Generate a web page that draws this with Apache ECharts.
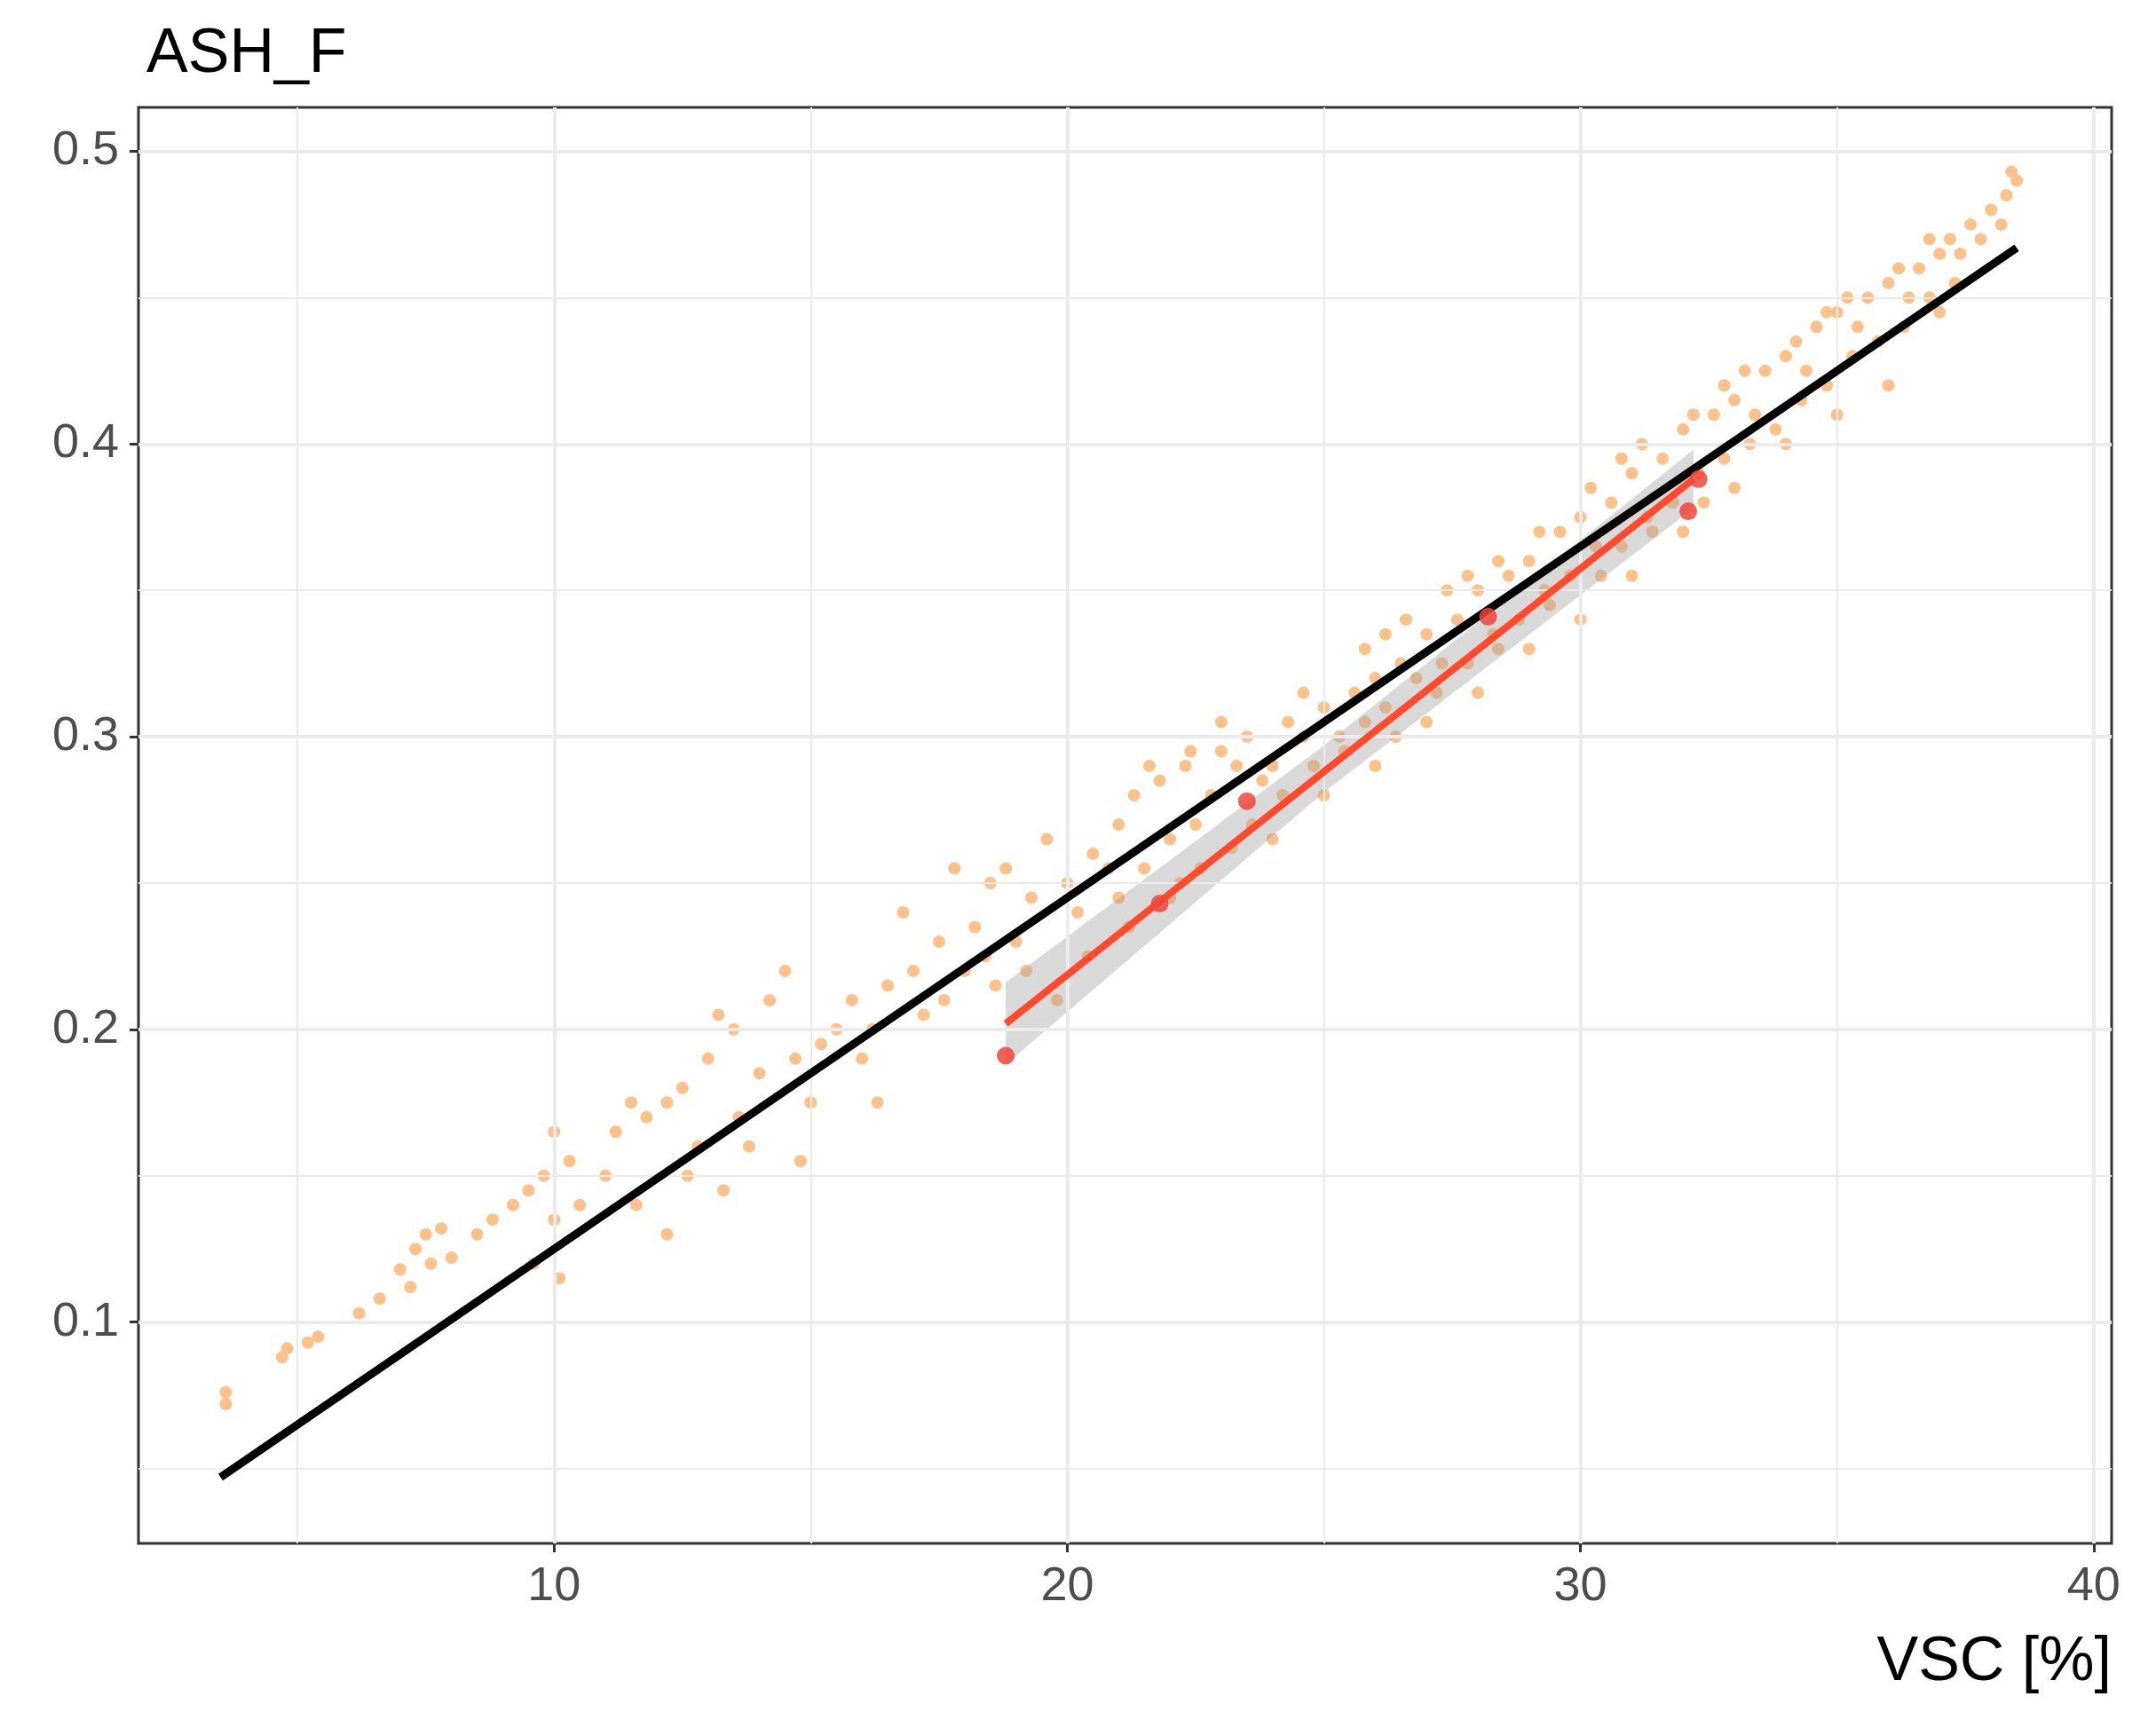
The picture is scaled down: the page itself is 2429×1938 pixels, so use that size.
<!DOCTYPE html>
<html><head><meta charset="utf-8">
<script src="https://cdn.jsdelivr.net/npm/echarts@6/dist/echarts.min.js"></script>
<style>html,body{margin:0;padding:0;background:#fff}#c{width:2429px;height:1938px}</style>
</head><body><div id="c"></div>
<script>
const xTicks=[10,20,30,40];
const yTicks=[0.1,0.2,0.3,0.4,0.5];
const xMinor=[5,15,25,35];
const yMinor=[0.05,0.15,0.25,0.35,0.45];
const obsPoints=[[3.6,0.072],[3.6,0.076],[4.7,0.088],[4.8,0.091],[5.2,0.093],[5.4,0.095],[6.2,0.103],[6.6,0.108],[7,0.118],[7.2,0.112],[7.3,0.125],[7.5,0.13],[7.6,0.12],[7.8,0.132],[8,0.122],[8.5,0.13],[9.2,0.14],[9.5,0.145],[9.8,0.15],[10,0.165],[10,0.135],[10.1,0.115],[10.3,0.155],[10.5,0.14],[11,0.15],[11.2,0.165],[11.5,0.175],[11.8,0.17],[12.2,0.175],[12.5,0.18],[12.2,0.13],[12.8,0.16],[13,0.19],[13.2,0.205],[13.5,0.2],[13.3,0.145],[13.6,0.17],[14,0.185],[14.2,0.21],[14.5,0.22],[14.7,0.19],[14.8,0.155],[15.2,0.195],[15.5,0.2],[15.8,0.21],[16,0.19],[16.3,0.175],[16.5,0.215],[16.8,0.24],[17,0.22],[17.2,0.205],[17.5,0.23],[17.8,0.255],[18,0.22],[18.2,0.235],[18.5,0.25],[18.8,0.255],[18.6,0.215],[19,0.23],[19.3,0.245],[19.6,0.265],[20,0.25],[20.2,0.24],[20.5,0.26],[20.8,0.255],[21,0.27],[21.3,0.28],[21.5,0.255],[21.8,0.285],[22,0.265],[22.3,0.29],[22.5,0.27],[22.8,0.28],[23,0.295],[23.3,0.29],[23.5,0.3],[23.8,0.285],[24,0.29],[24.3,0.305],[24.6,0.3],[25,0.31],[25.3,0.3],[25.6,0.315],[26,0.32],[26.2,0.31],[26.5,0.325],[26.8,0.32],[27,0.335],[27.3,0.325],[27.6,0.34],[28,0.35],[28.3,0.335],[28.6,0.355],[29,0.36],[29.3,0.35],[29.6,0.37],[30,0.375],[30.3,0.365],[30.6,0.38],[31,0.39],[31.3,0.375],[31.6,0.395],[32,0.405],[32.3,0.39],[32.6,0.41],[33,0.415],[33.3,0.4],[33.6,0.425],[34,0.43],[34.3,0.415],[34.6,0.44],[35,0.445],[35.3,0.43],[35.6,0.45],[36,0.455],[36.3,0.44],[36.6,0.46],[37,0.465],[37.3,0.455],[37.6,0.475],[38,0.48],[38.3,0.485],[38.5,0.49],[22,0.245],[24,0.265],[26,0.29],[28,0.315],[30,0.34],[32,0.37],[34,0.4],[36,0.42],[21,0.245],[25,0.28],[27,0.305],[29,0.33],[31,0.355],[33,0.385],[35,0.41],[37,0.445],
[19.8,0.21],[20.4,0.225],[21.2,0.235],[22.2,0.25],[22.6,0.255],[23.2,0.262],[23.6,0.27],[24.2,0.28],[24.8,0.29],[25.4,0.295],[25.8,0.305],[26.4,0.3],[27.2,0.315],[27.8,0.325],[28.4,0.33],[28.8,0.34],[29.4,0.345],[29.8,0.355],[30.4,0.355],[30.8,0.365],[31.4,0.37],[31.8,0.38],[32.4,0.38],[32.8,0.395],[33.4,0.41],[33.8,0.405],[34.4,0.425],[34.8,0.42],[35.4,0.44],[35.8,0.435],[36.4,0.45],[36.8,0.45],[37.4,0.465],[37.8,0.47],[38.2,0.475],[21.6,0.29],[22.4,0.295],[23.0,0.305],[24.6,0.315],[25.8,0.33],[26.6,0.34],[27.4,0.35],[28.4,0.36],[29.2,0.37],[30.2,0.385],[31.2,0.4],[32.2,0.41],[33.2,0.425],[34.2,0.435],[35.2,0.45],[36.2,0.46],[37.2,0.47],[26.2,0.335],[27.8,0.355],[30.8,0.395],[32.8,0.42],[34.8,0.445],[36.8,0.47],[38.4,0.493],[16.2,0.2],[17.6,0.21],[18.4,0.225],[19.2,0.22],[15,0.175],[13.8,0.16],[12.6,0.15],[11.6,0.14],[8.8,0.135],[9.6,0.12]];
const blackLine=[[3.5,0.047],[38.5,0.467]];
const redLine=[[18.8,0.202],[32.2,0.388]];
const bandUpper=[[18.8,0.216],[25,0.297],[32.2,0.398]];
const bandLower=[[18.8,0.188],[25,0.281],[32.2,0.378]];
const redPoints=[[18.8,0.191],[21.8,0.243],[23.5,0.278],[28.2,0.341],[32.1,0.377],[32.3,0.388]];

const chart=echarts.init(document.getElementById('c'));
const axisLab={fontSize:54,color:'#4d4d4d',fontFamily:'Liberation Sans, Arial'};
const gridMark=(vals,axis,w)=>vals.map(v=>({[axis]:v,lineStyle:{color:'#ebebeb',width:w,type:'solid'}}));
chart.setOption({
  animation:false,
  title:{text:'ASH_F',left:160,top:22,textStyle:{fontSize:70,fontWeight:'normal',color:'#000',fontFamily:'Liberation Sans, Arial'}},
  grid:{left:156,right:50,top:121,bottom:199,show:true,borderColor:'#333',borderWidth:3},
  xAxis:{type:'value',min:1.9,max:40.35,splitLine:{show:false},axisLine:{show:false},
    axisTick:{show:true,customValues:xTicks,length:10,lineStyle:{color:'#333',width:3}},
    axisLabel:{...axisLab,customValues:xTicks,margin:22},
    name:'VSC [%]',nameLocation:'end',nameGap:0,
    nameTextStyle:{fontSize:70,color:'#000',fontFamily:'Liberation Sans, Arial',align:'right',verticalAlign:'top',padding:[100,0,0,0]}},
  yAxis:{type:'value',min:0.0244,max:0.515,splitLine:{show:false},axisLine:{show:false},
    axisTick:{show:true,customValues:yTicks,length:10,lineStyle:{color:'#333',width:3}},
    axisLabel:{...axisLab,customValues:yTicks,margin:22,formatter:v=>v.toFixed(1)}},
  series:[
    {type:'line',data:[],silent:true,markLine:{symbol:'none',silent:true,label:{show:false},
      data:[...gridMark(xMinor,'xAxis',2),...gridMark(yMinor,'yAxis',2),...gridMark(xTicks,'xAxis',4),...gridMark(yTicks,'yAxis',4)]}},
    {type:'scatter',data:obsPoints,symbolSize:14,itemStyle:{color:'#fdbf85',opacity:0.95},z:3},
    {type:'custom',z:4,data:[0],renderItem:(p,api)=>{
      const pts=bandUpper.map(d=>api.coord(d)).concat(bandLower.slice().reverse().map(d=>api.coord(d)));
      return {type:'polygon',shape:{points:pts},style:{fill:'rgba(160,160,160,0.4)'}};}},
    {type:'line',data:blackLine,symbol:'none',lineStyle:{color:'#000',width:9},z:5},
    {type:'line',data:redLine,symbol:'none',lineStyle:{color:'#ff4a2e',width:8},z:6},
    {type:'scatter',data:redPoints,symbolSize:20,itemStyle:{color:'#f0453a',opacity:0.85},z:7}
  ]
});
</script></body></html>
